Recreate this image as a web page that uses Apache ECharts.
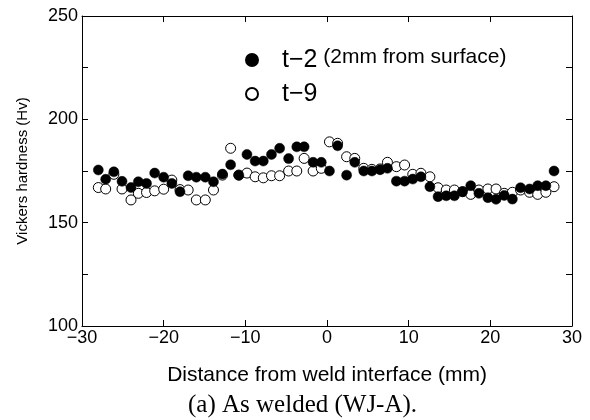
<!DOCTYPE html>
<html lang="en" style="height: 100%">
<head>
  <meta charset="UTF-8" />
  <title>Vickers hardness - As welded</title>
  <script src="https://cdn.jsdelivr.net/npm/echarts@6.0.0/dist/echarts.min.js"></script>
  <style>
    html, body { height: 100%; margin: 0; background: #fff; }
    #chart { width: 590px; height: 420px; }
  </style>
</head>
<body>
  <div id="chart"></div>
  <script>
    // measurement positions (mm from weld interface)
    const positions = [-28.0, -27.1, -26.1, -25.1, -24.0, -23.1, -22.1, -21.1, -20.0, -19.0,
      -18.0, -17.0, -16.0, -14.9, -13.9, -12.8, -11.8, -10.8, -9.8, -8.8,
      -7.8, -6.8, -5.8, -4.7, -3.7, -2.8, -1.7, -0.7, 0.3, 1.3,
      2.4, 3.4, 4.5, 5.5, 6.5, 7.4, 8.5, 9.5, 10.5, 11.5,
      12.6, 13.6, 14.6, 15.6, 16.6, 17.6, 18.6, 19.7, 20.7, 21.7,
      22.7, 23.7, 24.8, 25.8, 26.8, 27.8];

    // t-2 (2mm from surface), filled
    const hvT2 = [175.5, 171, 174.6, 170, 167, 169.8, 169, 174, 172, 169,
      165, 172.7, 172, 172, 169.8, 173.5, 178, 173, 183, 179.8,
      179.8, 183, 186, 181, 186.7, 186.7, 179.2, 179.2, 175, 187.2,
      173, 179.2, 175, 175, 175.6, 176.3, 170.1, 170.1, 171.1, 172.2,
      167.4, 162.6, 163, 163, 165, 167.9, 164.2, 162.1, 161.3, 163.2,
      161.4, 166.9, 166.3, 167.9, 167.9, 175];

    // t-9, open
    const hvT9 = [167, 166.3, 173.4, 166.3, 161, 164.2, 164.6, 165.4, 166.2, 170.6,
      166, 165.8, 161, 161, 165.8, 173, 186, 173, 174, 172.2,
      171.7, 172.7, 172.7, 175, 175, 181.1, 175, 176.3, 189.1, 188.4,
      181.9, 181.1, 176.3, 175.8, 176, 179.2, 177.1, 177.9, 173.4, 173.9,
      172.2, 166.9, 165.8, 165.8, 165, 163.7, 165.8, 166.3, 166.3, 164.2,
      164.7, 165.8, 164.7, 163.7, 164.7, 167.4];

    const xTicks = [-30, 30, 10];   // min, max, step
    const yTicks = [100, 250, 25];  // labels every 50

    const font = 'Liberation Sans, Arial, sans-serif';
    const axisLine = { show: true, onZero: false, lineStyle: { color: '#000', width: 1 } };
    const tick = { show: true, inside: true, length: 6, lineStyle: { color: '#000', width: 1 } };
    const minus = v => (v < 0 ? '\u2212' + Math.abs(v) : '' + v);

    const chart = echarts.init(document.getElementById('chart'));

    chart.setOption({
      backgroundColor: '#fff',
      animation: false,
      title: {
        text: '(a) As welded (WJ-A).',
        left: 183,
        top: 388,
        textStyle: { fontFamily: 'Liberation Serif, Times New Roman, serif', fontSize: 25, fontWeight: 'normal', color: '#000' }
      },
      legend: {
        orient: 'vertical',
        left: 240,
        top: 42,
        itemWidth: 12,
        itemHeight: 12,
        itemGap: 9,
        selectedMode: false,
        data: ['t-2', 't-9'],
        formatter: name => name === 't-2'
          ? '{a|t\u22122}{b| (2mm from surface)}'
          : '{a|t\u22129}',
        textStyle: {
          rich: {
            a: { fontFamily: font, fontSize: 25, color: '#000', lineHeight: 26, padding: [0, 0, 0, 19] },
            b: { fontFamily: font, fontSize: 21, color: '#000', verticalAlign: 'top', lineHeight: 19 }
          }
        }
      },
      grid: { left: 82, right: 18, top: 16, bottom: 94 },
      xAxis: [{
        type: 'value',
        min: xTicks[0], max: xTicks[1], interval: xTicks[2],
        name: 'Distance from weld interface (mm)',
        nameLocation: 'middle',
        nameGap: 39,
        nameTextStyle: { fontFamily: font, fontSize: 21, color: '#000' },
        axisLine, axisTick: tick,
        axisLabel: { fontFamily: font, fontSize: 18, color: '#000', margin: 3, formatter: minus },
        splitLine: { show: false }
      }, {
        type: 'value', position: 'top',
        min: xTicks[0], max: xTicks[1], interval: xTicks[2],
        axisLine, axisTick: tick, axisLabel: { show: false }, splitLine: { show: false }
      }],
      yAxis: [{
        type: 'value',
        min: yTicks[0], max: yTicks[1], interval: yTicks[2],
        name: 'Vickers hardness (Hv)',
        nameLocation: 'middle',
        nameGap: 52,
        nameTextStyle: { fontFamily: font, fontSize: 15, color: '#000' },
        axisLine, axisTick: tick,
        axisLabel: { fontFamily: font, fontSize: 18, color: '#000', margin: 4,
          formatter: v => (v % 50 === 0 ? '' + v : '') },
        splitLine: { show: false }
      }, {
        type: 'value', position: 'right',
        min: yTicks[0], max: yTicks[1], interval: yTicks[2],
        axisLine, axisTick: tick, axisLabel: { show: false }, splitLine: { show: false }
      }],
      series: [
        {
          name: 't-9',
          type: 'scatter',
          symbol: 'circle',
          symbolSize: 10,
          itemStyle: { color: '#fff', borderColor: '#000', borderWidth: 1, opacity: 1 },
          data: positions.map((x, i) => [x, hvT9[i]])
        },
        {
          name: 't-2',
          type: 'scatter',
          symbol: 'circle',
          symbolSize: 10,
          itemStyle: { color: '#000', borderColor: '#000', borderWidth: 0.5, opacity: 1 },
          data: positions.map((x, i) => [x, hvT2[i]])
        }
      ]
    });
  </script>
</body>
</html>
